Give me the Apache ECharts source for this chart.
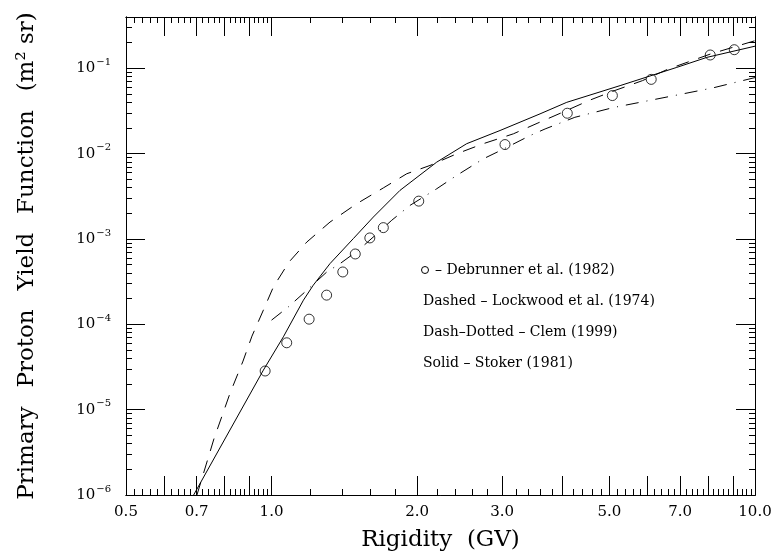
<!DOCTYPE html>
<html>
<head>
<meta charset="utf-8">
<script src="https://cdn.jsdelivr.net/npm/echarts@6/dist/echarts.min.js"></script>
<style>
html,body{margin:0;padding:0;background:#fff;}
#chart{width:774px;height:556px;}
</style>
</head>
<body>
<div id="chart"></div>
<script>
// ---- Data ----
var debrunnerX = [0.97, 1.075, 1.196, 1.30, 1.404, 1.49, 1.597, 1.703, 2.016, 3.04, 4.09, 5.07, 6.10, 8.08, 9.06];
var debrunnerY = [2.84e-5, 6.08e-5, 1.15e-4, 2.20e-4, 4.11e-4, 6.68e-4, 1.03e-3, 1.36e-3, 2.78e-3, 1.28e-2, 2.98e-2, 4.80e-2, 7.43e-2, 0.1435, 0.1655];

var stokerX = [0.69, 0.962, 1.058, 1.164, 1.22, 1.321, 1.476, 1.624, 1.844, 2.196, 2.533, 2.969, 3.592, 4.08, 5.26, 6.89, 7.95, 10.0];
var stokerY = [1.0e-6, 2.91e-5, 7.14e-5, 1.92e-4, 2.88e-4, 5.15e-4, 1.01e-3, 1.81e-3, 3.72e-3, 7.96e-3, 1.31e-2, 1.87e-2, 2.93e-2, 4.0e-2, 6.28e-2, 0.1027, 0.1345, 0.182];

var lockwoodX = [0.701, 0.732, 0.760, 0.821, 0.873, 0.911, 0.962, 1.009, 1.087, 1.183, 1.321, 1.50, 1.703, 1.904, 2.127, 2.415, 2.742, 3.164, 3.557, 3.984, 4.557, 5.11, 5.85, 6.61, 8.08, 10.0];
var lockwoodY = [1.0e-6, 2.25e-6, 4.54e-6, 1.57e-5, 3.71e-5, 7.28e-5, 1.47e-4, 2.75e-4, 5.38e-4, 9.22e-4, 1.58e-3, 2.59e-3, 3.97e-3, 5.82e-3, 7.28e-3, 9.97e-3, 1.31e-2, 1.71e-2, 2.29e-2, 3.03e-2, 4.25e-2, 5.46e-2, 7.18e-2, 0.098, 0.147, 0.211];

var clemX = [1.0, 1.083, 1.173, 1.301, 1.386, 1.512, 1.637, 1.773, 1.934, 2.196, 2.415, 2.742, 3.02, 3.424, 3.68, 4.24, 5.09, 5.95, 7.0, 8.19, 10.0];
var clemY = [1.12e-4, 1.6e-4, 2.4e-4, 4.11e-4, 5.15e-4, 7.38e-4, 1.10e-3, 1.66e-3, 2.48e-3, 3.88e-3, 5.56e-3, 8.71e-3, 1.135e-2, 1.63e-2, 1.95e-2, 2.67e-2, 3.47e-2, 4.13e-2, 4.95e-2, 5.91e-2, 7.8e-2];

var xTickLabels = [0.5, 0.7, 1.0, 2.0, 3.0, 5.0, 7.0, 10.0];
var yTickLabels = [1e-6, 1e-5, 1e-4, 1e-3, 1e-2, 1e-1];

var legendLines = [
  '\u2013 Debrunner et al. (1982)',
  'Dashed \u2013 Lockwood et al. (1974)',
  'Dash\u2013Dotted \u2013 Clem (1999)',
  'Solid \u2013 Stoker (1981)'
];

// ---- Tick positions ----
var X_MIN = 0.5, X_MAX = 10, Y_MIN = 1e-6, Y_MAX = 0.4;
var xMajor = [0.6, 0.7, 0.8, 0.9, 1, 2, 3, 4, 5, 6, 7, 8, 9, 10];
var xMinor = [];
for (var a = 52; a < 100; a += 2) { if (a % 10 !== 0) xMinor.push(a / 100); }
for (var b = 12; b < 100; b += 2) { if (b % 10 !== 0) xMinor.push(b / 10); }
var yMajor = [1e-6, 1e-5, 1e-4, 1e-3, 1e-2, 1e-1];
var yMinor = [];
for (var k = -6; k <= -1; k++) {
  for (var m = 2; m <= 9; m++) {
    var v = parseFloat((m * Math.pow(10, k)).toPrecision(3));
    if (v < Y_MAX) yMinor.push(v);
  }
}

function zip(xs, ys) { return xs.map(function (x, i) { return [x, ys[i]]; }); }

var FONT = 'DejaVu Serif';
var BLACK = '#000';
var WS = '\u2002 '; // wide word gap, like the original plotting font

function xAxisDef(pos, ticks, len, withLabel) {
  return {
    type: 'log', logBase: 10, min: X_MIN, max: X_MAX, position: pos,
    axisLine: { show: true, lineStyle: { color: BLACK, width: 1 } },
    axisTick: { show: true, inside: true, length: len, customValues: ticks, lineStyle: { color: BLACK, width: 1 } },
    axisLabel: withLabel ? {
      show: true, customValues: xTickLabels, margin: 10,
      fontFamily: FONT, fontSize: 15, color: BLACK,
      formatter: function (v) { return Number(v).toFixed(1); }
    } : { show: false },
    minorTick: { show: false }, splitLine: { show: false },
    name: withLabel ? 'Rigidity  (GV)' : '',
    nameLocation: 'middle', nameGap: 34,
    nameTextStyle: { fontFamily: FONT, fontSize: 23, color: BLACK }
  };
}
function yAxisDef(pos, ticks, len, withLabel) {
  return {
    type: 'log', logBase: 10, min: Y_MIN, max: Y_MAX, position: pos,
    axisLine: { show: true, lineStyle: { color: BLACK, width: 1 } },
    axisTick: { show: true, inside: true, length: len, customValues: ticks, lineStyle: { color: BLACK, width: 1 } },
    axisLabel: withLabel ? {
      show: true, customValues: yTickLabels, margin: 15,
      formatter: function (v) {
        var e = Math.round(Math.log(v) / Math.LN10);
        return '{b|10}{s|\u2212' + Math.abs(e) + '}';
      },
      rich: {
        b: { fontFamily: FONT, fontSize: 15, color: BLACK },
        s: { fontFamily: FONT, fontSize: 10, color: BLACK, padding: [0, 0, 12, 1] }
      }
    } : { show: false },
    minorTick: { show: false }, splitLine: { show: false },
    name: withLabel ? ['Primary', 'Proton', 'Yield', 'Function', '(m\u00B2 sr)'].join(WS) : '',
    nameLocation: 'middle', nameGap: 87, nameRotate: 90,
    nameTextStyle: { fontFamily: FONT, fontSize: 23, color: BLACK }
  };
}

var chart = echarts.init(document.getElementById('chart'), null, { renderer: 'canvas' });
var lineCommon = { showSymbol: false, symbol: 'none', smooth: false, clip: true };
chart.setOption({
  backgroundColor: '#fff',
  animation: false,
  grid: { left: 126, right: 19, top: 17, bottom: 61, containLabel: false, outerBoundsMode: 'none' },
  xAxis: [
    xAxisDef('bottom', xMajor, 19, true),
    xAxisDef('bottom', xMinor, 6, false),
    xAxisDef('top', xMajor, 19, false),
    xAxisDef('top', xMinor, 6, false)
  ],
  yAxis: [
    yAxisDef('left', yMajor, 19, true),
    yAxisDef('left', yMinor, 6, false),
    yAxisDef('right', yMajor, 19, false),
    yAxisDef('right', yMinor, 6, false)
  ],
  series: [
    Object.assign({
      name: 'Stoker (1981)', type: 'line', data: zip(stokerX, stokerY),
      lineStyle: { color: BLACK, width: 1, type: 'solid' }
    }, lineCommon),
    Object.assign({
      name: 'Lockwood et al. (1974)', type: 'line', data: zip(lockwoodX, lockwoodY),
      lineStyle: { color: BLACK, width: 1, type: [13, 10] }
    }, lineCommon),
    Object.assign({
      name: 'Clem (1999)', type: 'line', data: zip(clemX, clemY),
      lineStyle: { color: BLACK, width: 1, type: [13, 8, 1, 8] }
    }, lineCommon),
    {
      name: 'Debrunner et al. (1982)', type: 'scatter', data: zip(debrunnerX, debrunnerY),
      symbol: 'circle', symbolSize: 10,
      itemStyle: { color: 'rgba(0,0,0,0)', borderColor: BLACK, borderWidth: 1 }
    }
  ],
  graphic: [
    { type: 'circle', shape: { cx: 425, cy: 270, r: 3.5 }, style: { fill: 'none', stroke: BLACK, lineWidth: 1 } },
    { type: 'text', x: 435, y: 270, style: { text: legendLines[0], font: '14px "DejaVu Serif"', fill: BLACK, verticalAlign: 'middle' } },
    { type: 'text', x: 423, y: 301, style: { text: legendLines[1], font: '14px "DejaVu Serif"', fill: BLACK, verticalAlign: 'middle' } },
    { type: 'text', x: 423, y: 332, style: { text: legendLines[2], font: '14px "DejaVu Serif"', fill: BLACK, verticalAlign: 'middle' } },
    { type: 'text', x: 423, y: 363, style: { text: legendLines[3], font: '14px "DejaVu Serif"', fill: BLACK, verticalAlign: 'middle' } }
  ]
});
</script>
</body>
</html>
